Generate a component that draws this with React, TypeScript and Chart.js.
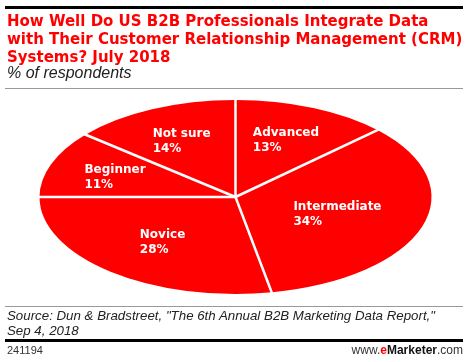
import React, { useEffect, useRef } from "react";
import { Chart, registerables } from "chart.js";

Chart.register(...registerables);

// ---- data ----
const categories = ["Advanced", "Intermediate", "Novice", "Beginner", "Not sure"];
const values = [13, 34, 28, 11, 14];
const valueLabels = ["13%", "34%", "28%", "11%", "14%"];

const titleLines = [
  "How Well Do US B2B Professionals Integrate Data",
  "with Their Customer Relationship Management (CRM)",
  "Systems? July 2018",
];
const subtitle = "% of respondents";
const sourceLines = [
  'Source: Dun & Bradstreet, "The 6th Annual B2B Marketing Data Report,"',
  "Sep 4, 2018",
];
const chartId = "241194";

// ---- style ----
const RED = "#ff0000";
const X_STRETCH = 196 / 97;

const ellipsePiePlugin = {
  id: "ellipsePie",
  beforeDatasetsDraw(chart: any) {
    const arc = chart.getDatasetMeta(0).data[0];
    const ctx = chart.ctx;
    ctx.save();
    ctx.translate(arc.x, 0);
    ctx.scale(X_STRETCH, 1);
    ctx.translate(-arc.x, 0);
  },
  afterDatasetsDraw(chart: any) {
    const ctx = chart.ctx;
    ctx.restore();
    const arcs = chart.getDatasetMeta(0).data as any[];
    const cx = arcs[0].x;
    const cy = arcs[0].y;
    const ry = arcs[0].outerRadius;
    const rx = ry * X_STRETCH;
    ctx.save();
    ctx.strokeStyle = "#ffffff";
    ctx.lineWidth = 2.5;
    arcs.forEach((a) => {
      const ang = a.startAngle;
      ctx.beginPath();
      ctx.moveTo(cx, cy);
      ctx.lineTo(cx + (rx + 3) * Math.cos(ang), cy + (ry + 3) * Math.sin(ang));
      ctx.stroke();
    });
    ctx.fillStyle = "#ffffff";
    ctx.font = "bold 12px 'DejaVu Sans'";
    ctx.textBaseline = "alphabetic";
    ctx.textAlign = "left";
    arcs.forEach((a, i) => {
      const mid = (a.startAngle + a.endAngle) / 2;
      const half = (a.endAngle - a.startAngle) / 2;
      // area centroid of the sector
      const f = (2 * Math.sin(half)) / (3 * half);
      const ax = cx + rx * f * Math.cos(mid);
      const ay = cy + ry * f * Math.sin(mid);
      const l1 = categories[i];
      const l2 = valueLabels[i];
      const w = Math.max(ctx.measureText(l1).width, ctx.measureText(l2).width);
      const left = ax - w / 2;
      const b1 = ay - 3;
      ctx.fillText(l1, left, b1);
      ctx.fillText(l2, left, b1 + 15);
    });
    ctx.restore();
  },
};

export default function App() {
  const canvasRef = useRef<HTMLCanvasElement | null>(null);

  useEffect(() => {
    if (!canvasRef.current) return;
    const chart = new Chart(canvasRef.current, {
      type: "pie",
      data: {
        labels: categories,
        datasets: [
          {
            data: values,
            backgroundColor: RED,
            borderWidth: 0,
          },
        ],
      },
      options: {
        animation: false,
        responsive: false,
        devicePixelRatio: 1,
        layout: { padding: { top: 100, bottom: 68, left: 138, right: 137 } },
        plugins: {
          legend: { display: false },
          tooltip: { enabled: false },
          title: { display: false },
        },
      },
      plugins: [ellipsePiePlugin],
    });
    return () => chart.destroy();
  }, []);

  const abs = (s: React.CSSProperties): React.CSSProperties => ({ position: "absolute", ...s });

  return (
    <div
      style={{
        position: "fixed",
        left: 0,
        top: 0,
        width: 470,
        height: 362,
        background: "#ffffff",
        overflow: "hidden",
      }}
    >
      <canvas ref={canvasRef} width={470} height={362} style={abs({ left: 0, top: 0 })} />
      <div style={abs({ left: 5, top: 6, width: 458, height: 2.5, background: "#000" })} />
      <div
        style={abs({
          left: 7,
          top: 12,
          font: "bold 15px 'DejaVu Sans'",
          lineHeight: "18px",
          color: RED,
          whiteSpace: "nowrap",
        })}
      >
        {titleLines.map((t, i) => (
          <div key={i}>{t}</div>
        ))}
      </div>
      <div
        style={abs({
          left: 7,
          top: 64,
          font: "italic 16px 'Liberation Sans'",
          lineHeight: "18px",
          color: "#222",
          whiteSpace: "nowrap",
        })}
      >
        {subtitle}
      </div>
      <div style={abs({ left: 5, top: 88, width: 458, height: 1, background: "#999" })} />
      <div style={abs({ left: 5, top: 306, width: 458, height: 1, background: "#999" })} />
      <div
        style={abs({
          left: 7,
          top: 308,
          font: "italic 13.3px 'Liberation Sans'",
          lineHeight: "15px",
          color: "#222",
          whiteSpace: "nowrap",
        })}
      >
        {sourceLines.map((t, i) => (
          <div key={i}>{t}</div>
        ))}
      </div>
      <div style={abs({ left: 5, top: 339, width: 458, height: 3, background: "#000" })} />
      <div
        style={abs({
          left: 7,
          top: 344,
          font: "11px 'Liberation Sans'",
          lineHeight: "13px",
          color: "#333",
        })}
      >
        {chartId}
      </div>
      <div
        style={abs({
          right: 7,
          top: 343,
          font: "12px 'Liberation Sans'",
          lineHeight: "14px",
          color: "#333",
          whiteSpace: "nowrap",
        })}
      >
        www.<b style={{ color: RED }}>e</b>
        <b style={{ color: "#111" }}>Marketer</b>.com
      </div>
    </div>
  );
}
